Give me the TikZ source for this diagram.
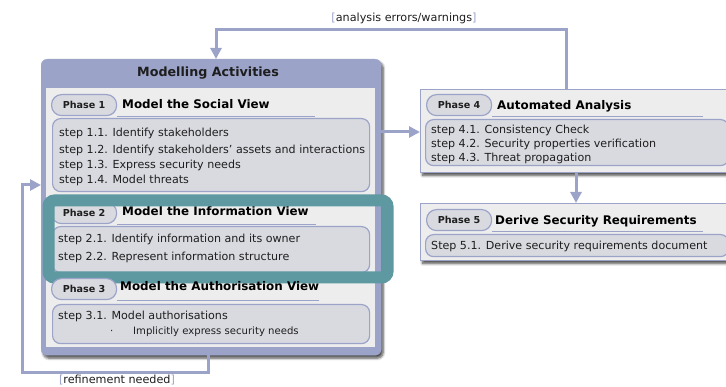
\documentclass[tikz,border=0pt]{standalone}
\usepackage{fontspec}
\setmainfont{DejaVu Sans}
\usetikzlibrary{arrows.meta,shadows.blur}
\definecolor{lav}{HTML}{9CA3C9}
\definecolor{panel}{HTML}{EDEDED}
\definecolor{stepfill}{HTML}{D9DAE0}
\definecolor{focus}{HTML}{5E99A1}
\definecolor{ink}{HTML}{1E1E1E}
\tikzset{
  softshadow/.style={blur shadow={shadow xshift=2pt, shadow yshift=-3pt, shadow blur radius=2.5pt, shadow blur steps=6, shadow opacity=70}},
  outerbox/.style={fill=lav, draw=lav, rounded corners=6pt, anchor=north west, inner sep=0pt, softshadow},
  panelbox/.style={fill=panel, draw=none, anchor=north west, inner sep=0pt},
  sidebox/.style={fill=panel, draw=lav, line width=1pt, anchor=north west, inner sep=0pt, softshadow},
  stepbox/.style={fill=stepfill, draw=lav, line width=1.2pt, rounded corners=8pt, anchor=north west, inner sep=0pt},
  pill/.style={fill=stepfill, draw=lav, line width=1.2pt, rounded corners=10pt, minimum width=65pt, minimum height=21pt,
    inner sep=0pt, anchor=north west, text=ink, font=\bfseries\fontsize{9.6}{11}\selectfont},
  focusframe/.style={draw=focus, line width=12pt, rounded corners=6pt, anchor=north west, inner sep=0pt},
  steptext/.style={anchor=base west, inner sep=0pt, text=ink, font=\fontsize{11.1}{13}\selectfont},
  subtext/.style={anchor=base west, inner sep=0pt, text=ink, font=\fontsize{10.1}{12}\selectfont},
  phtitle/.style={anchor=base west, inner sep=0pt, text=black, font=\bfseries\fontsize{11.9}{14}\selectfont},
  flowlabel/.style={anchor=base, inner sep=0pt, text=ink, font=\fontsize{11.2}{13}\selectfont},
  flow/.style={draw=lav, line width=3pt, -{Triangle[length=11pt,width=11pt]}},
  uline/.style={draw=lav, line width=1pt},
}
\newcommand{\lb}{\textcolor{lav}{[}}
\newcommand{\rb}{\textcolor{lav}{]}}
\begin{document}
\begin{tikzpicture}[x=1pt,y=-1pt]
\useasboundingbox (0,0) rectangle (726,387);
\clip (0,0) rectangle (726,387);

% ---- modelling activities container ----
\node[outerbox, minimum width=340pt, minimum height=296pt] (outer) at (41,59) {};
\node[anchor=base, inner sep=0pt, font=\bfseries\fontsize{12.7}{15}\selectfont, text=ink] (outertitle) at (208,77) {Modelling Activities};
\node[panelbox, minimum width=329pt, minimum height=259pt] (panel) at (46,88) {};

% phase 1
\node[pill] (ph1) at (51,94) {Phase 1};
\node[phtitle] (t1) at (122,109) {Model the Social View};
\draw[uline] (ph1.south east) -- ++(198,0);
\node[stepbox, minimum width=317pt, minimum height=73pt] (s1) at (52,118) {};
\node[steptext] (s11) at (59,137) {step 1.1. Identify stakeholders};
\node[steptext] (s12) at (59,154) {step 1.2. Identify stakeholders' assets and interactions};
\node[steptext] (s13) at (59,169) {step 1.3. Express security needs};
\node[steptext] (s14) at (59,184) {step 1.4. Model threats};

% phase 2
\node[pill] (ph2) at (51,202) {Phase 2};
\node[phtitle] (t2) at (122,216) {Model the Information View};
\draw[uline] (ph2.south east) -- ++(199,0);
\node[stepbox, minimum width=317pt, minimum height=46pt] (s2) at (52,226) {};
\node[steptext] (s21) at (58,243) {step 2.1. Identify information and its owner};
\node[steptext] (s22) at (58,261) {step 2.2. Represent information structure};

% highlighted frame around phase 2
\node[focusframe, minimum width=339pt, minimum height=77pt] (focusbox) at (42.5,194.5) {};

% phase 3
\node[pill] (ph3) at (51,278) {Phase 3};
\node[phtitle] (t3) at (120,291) {Model the Authorisation View};
\draw[uline] (ph3.south east) -- ++(202,0);
\node[stepbox, minimum width=317pt, minimum height=39pt] (s3) at (52,304) {};
\node[steptext] (s31) at (58,320) {step 3.1. Model authorisations};
\node[subtext] (bul) at (110,335) {·};
\node[subtext] (s31a) at (133,335) {Implicitly express security needs};

% ---- phase 4 ----
\node[sidebox, minimum width=320pt, minimum height=83pt] (p4) at (420,89) {};
\node[pill] (ph4) at (426,94) {Phase 4};
\node[phtitle] (t4) at (497,110) {Automated Analysis};
\draw[uline] (ph4.south east) -- ++(211,0);
\node[stepbox, minimum width=303pt, minimum height=46pt] (s4) at (425,119) {};
\node[steptext] (s41) at (431,134) {step 4.1. Consistency Check};
\node[steptext] (s42) at (431,148) {step 4.2. Security properties verification};
\node[steptext] (s43) at (431,162) {step 4.3. Threat propagation};

% ---- phase 5 ----
\node[sidebox, minimum width=320pt, minimum height=57pt] (p5) at (420,203) {};
\node[pill] (ph5) at (426,209) {Phase 5};
\node[phtitle] (t5) at (495,225) {Derive Security Requirements};
\draw[uline] (ph5.south east) -- ++(211,0);
\node[stepbox, minimum width=303pt, minimum height=22pt] (s5) at (425,234) {};
\node[steptext] (s51) at (431,250) {Step 5.1. Derive security requirements document};

% ---- flows ----
\coordinate (feedR) at (566,30);
\coordinate (feedL) at (216,30);
\draw[flow] (feedR |- p4.north) -- (feedR) -- (feedL) -- (feedL |- outer.north);
\node[flowlabel] (lblA) at (404,22) {\lb analysis errors/warnings\rb};

\coordinate (mid) at (400,132);
\draw[flow] (mid -| outer.east) -- (mid -| p4.west);

\coordinate (down) at (576,180);
\draw[flow] (down |- p4.south) -- (down |- p5.north);

\coordinate (refA) at (208,373);
\coordinate (refB) at (22,373);
\coordinate (refC) at (22,185);
\draw[flow] (refA |- outer.south) -- (refA) -- (refB) -- (refC) -- (refC -| outer.west);
\node[flowlabel] (lblR) at (117,384) {\lb refinement needed\rb};
\end{tikzpicture}
\end{document}
